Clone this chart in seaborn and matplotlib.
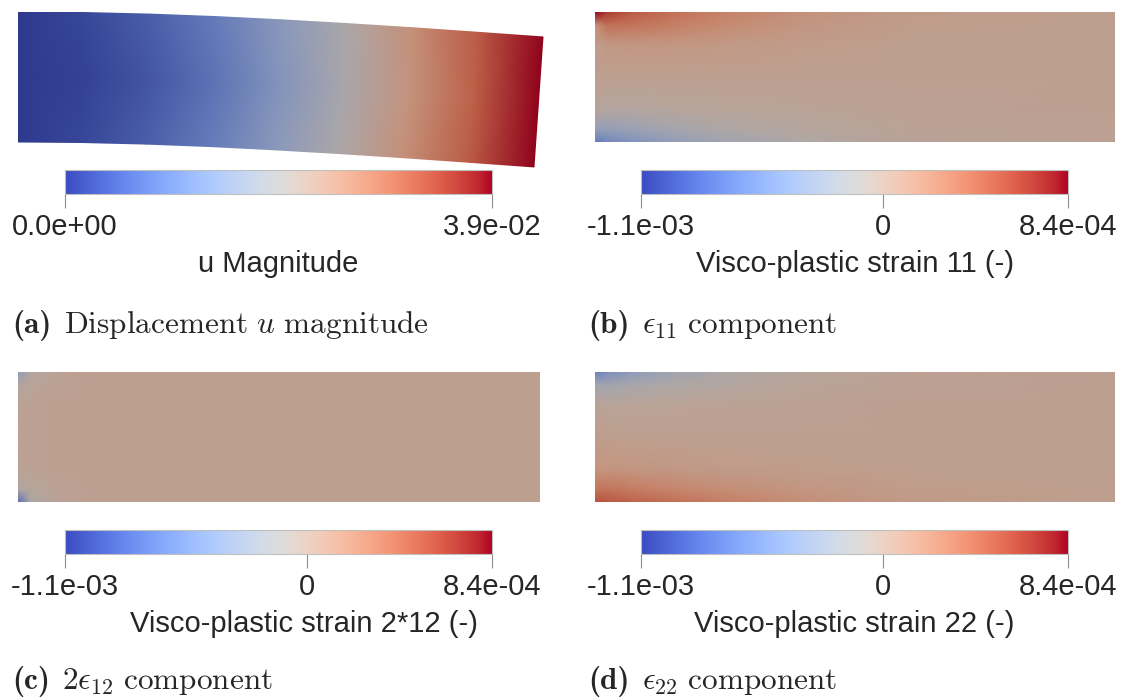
import numpy as np
import matplotlib.pyplot as plt
import matplotlib.colors as mcolors
import matplotlib.cm as cm
from matplotlib.text import Annotation
import seaborn as sns

sns.set_theme(style="white")
plt.rcParams['font.family'] = ['Liberation Sans', 'DejaVu Sans']
plt.rcParams['mathtext.fontset'] = 'cm'

W, H = 1123, 698

# beam: length 4, height 1 (undeformed)
# (a) deformed shape read at stations along the beam
x_st = np.array([0, 0.5, 1.0, 1.5, 2.0, 2.5, 3.0, 3.5, 4.0])
deflection = np.array([0, 0.004, 0.016, 0.035, 0.060, 0.089, 0.121, 0.156, 0.192])
shift_top = np.array([0, 0.005, 0.010, 0.014, 0.017, 0.020, 0.022, 0.023, 0.023])
shift_bot = np.array([0, -0.011, -0.020, -0.028, -0.035, -0.040, -0.043, -0.045, -0.046])
y_a = np.array([0.0, 0.5, 1.0])
# u magnitude (x1e-2), rows bottom / middle / top
u_bot = [0, 0.16, 0.43, 0.82, 1.33, 1.87, 2.54, 3.20, 3.9]
u_mid = [0, 0.08, 0.33, 0.70, 1.21, 1.79, 2.46, 3.16, 3.9]
u_top = [0, 0.16, 0.43, 0.82, 1.33, 1.87, 2.54, 3.20, 3.9]
u_max = 3.9e-2

# strain fields (x1e-4) on an undeformed grid, rows from bottom (y=0) to top (y=1)
xs = np.array([0, 0.1, 0.3, 0.6, 1.0, 1.6, 2.4, 4.0])
ys = np.array([0, 0.1, 0.25, 0.5, 0.75, 0.9, 1.0])
eps11 = [
    [-7.0, -6.0, -5.0, -3.8, -2.6, -1.4, -0.5, -0.1],
    [-3.5, -3.5, -3.0, -2.3, -1.6, -0.9, -0.3, -0.1],
    [-0.5, -1.0, -1.0, -0.8, -0.6, -0.4, -0.1, 0.0],
    [0.0, 0.0, 0.0, 0.0, 0.0, 0.0, 0.0, 0.0],
    [0.2, 0.8, 1.0, 0.9, 0.7, 0.4, 0.1, 0.0],
    [1.5, 3.8, 3.5, 2.8, 2.0, 1.0, 0.3, 0.0],
    [8.4, 6.5, 5.0, 3.8, 2.6, 1.4, 0.5, 0.1],
]
eps12 = [
    [-8.0, -1.5, -0.4, 0.0, 0.0, 0.0, 0.0, 0.0],
    [-1.5, -0.8, -0.2, 0.0, 0.0, 0.0, 0.0, 0.0],
    [-0.3, -0.2, 0.0, 0.0, 0.0, 0.0, 0.0, 0.0],
    [-0.2, -0.1, 0.0, 0.0, 0.0, 0.0, 0.0, 0.0],
    [-0.3, -0.2, 0.0, 0.0, 0.0, 0.0, 0.0, 0.0],
    [-1.0, -0.5, -0.2, 0.0, 0.0, 0.0, 0.0, 0.0],
    [-4.0, -1.0, -0.3, 0.0, 0.0, 0.0, 0.0, 0.0],
]
eps22 = [
    [5.5, 5.2, 4.6, 3.8, 2.8, 1.6, 0.6, 0.1],
    [3.5, 3.5, 3.0, 2.4, 1.8, 1.0, 0.4, 0.1],
    [1.2, 1.2, 1.0, 0.8, 0.5, 0.3, 0.1, 0.0],
    [0.3, 0.2, 0.1, 0.0, 0.0, 0.0, 0.0, 0.0],
    [-0.5, -0.6, -0.5, -0.4, -0.3, -0.1, 0.0, 0.0],
    [-2.5, -2.5, -2.0, -1.5, -1.0, -0.5, -0.2, 0.0],
    [-6.5, -5.5, -4.0, -2.6, -1.6, -0.7, -0.2, 0.0],
]
eps_min, eps_max = -1.1e-3, 8.4e-4

cap_tags = ["(a)", "(b)", "(c)", "(d)"]
cap_texts = [
    r"$\mathrm{Displacement}\ u\ \mathrm{magnitude}$",
    r"$\epsilon_{11}\ \mathrm{component}$",
    r"$2\epsilon_{12}\ \mathrm{component}$",
    r"$\epsilon_{22}\ \mathrm{component}$",
]
bar_titles = ["u Magnitude", "Visco-plastic strain 11 (-)",
              "Visco-plastic strain 2*12 (-)", "Visco-plastic strain 22 (-)"]

cmap = sns.color_palette("coolwarm", as_cmap=True)
# shaded version as the lit surface appears darker
lit = cmap(np.linspace(0, 1, 256))[:, :3] * np.array([0.80, 0.76, 0.74])
cmap_lit = mcolors.ListedColormap(lit)


def px_rect(x0, y0, x1, y1):
    return [x0 / W, 1 - y1 / H, (x1 - x0) / W, (y1 - y0) / H]


fig = plt.figure(figsize=(W / 100, H / 100), dpi=100)

# ---- (a) deformed beam
ax = fig.add_axes(px_rect(18, 12, 18 + 4.061 * 130.5, 12 + 158))
X = np.array([x_st + shift_bot + (shift_top - shift_bot) * yy for yy in y_a])
Y = np.array([yy - deflection for yy in y_a])
C = np.array([u_bot, u_mid, u_top]) * 1e-2
ax.pcolormesh(X, Y, C, shading='gouraud', cmap=cmap_lit, vmin=0, vmax=u_max)
ax.set_xlim(0, 4.061)
ax.set_ylim(1 - 158 / 130, 1)
ax.axis('off')

# ---- (b), (c), (d) undeformed beams
beam_boxes = {1: (595, 12, 1115, 142), 2: (18, 372, 540, 502), 3: (595, 372, 1115, 502)}
fields = {1: eps11, 2: eps12, 3: eps22}
XS, YS = np.meshgrid(xs, ys)
for k, box in beam_boxes.items():
    ax = fig.add_axes(px_rect(*box))
    ax.pcolormesh(XS, YS, np.array(fields[k]) * 1e-4, shading='gouraud',
                  cmap=cmap_lit, vmin=eps_min, vmax=eps_max)
    ax.set_xlim(0, 4)
    ax.set_ylim(0, 1)
    ax.axis('off')

# ---- colour bars
bar_boxes = [(65, 170, 492, 194), (641, 170, 1068, 194),
             (65, 530, 492, 554), (641, 530, 1068, 554)]
label_x = [0.5, 0.5, 0.56, 0.5]
for i, box in enumerate(bar_boxes):
    cax = fig.add_axes(px_rect(*box))
    if i == 0:
        norm = mcolors.Normalize(0, u_max)
        ticks, labels = [0, u_max], ["0.0e+00", "3.9e-02"]
    else:
        norm = mcolors.Normalize(eps_min, eps_max)
        ticks, labels = [eps_min, 0, eps_max], ["-1.1e-03", "0", "8.4e-04"]
    cb = fig.colorbar(cm.ScalarMappable(norm=norm, cmap=cmap), cax=cax,
                      orientation='horizontal', ticks=ticks)
    cb.set_ticklabels(labels)
    cb.outline.set_edgecolor('0.75')
    cb.outline.set_linewidth(0.8)
    cax.tick_params(axis='x', direction='out', length=10, width=0.8,
                    color='0.55', labelsize=21, pad=4, bottom=True)
    cb.set_label(bar_titles[i], fontsize=21)
    cax.xaxis.set_label_coords(label_x[i], -2.35)

# ---- sub-captions: bold tag followed by the description
cap_pos = [(12, 333), (588, 333), (12, 689), (588, 689)]
for (cx, cy), tag, txt in zip(cap_pos, cap_tags, cap_texts):
    t = fig.text(cx / W, 1 - cy / H, tag, fontsize=22.5, family='cmb10',
                 ha='left', va='baseline')
    fig.add_artist(Annotation(
        txt, xy=(1, 1 - cy / H), xycoords=(t, 'figure fraction'),
        xytext=(9, 0), textcoords='offset points', fontsize=22.5,
        ha='left', va='baseline'))

fig.savefig("out.png", dpi=100)
